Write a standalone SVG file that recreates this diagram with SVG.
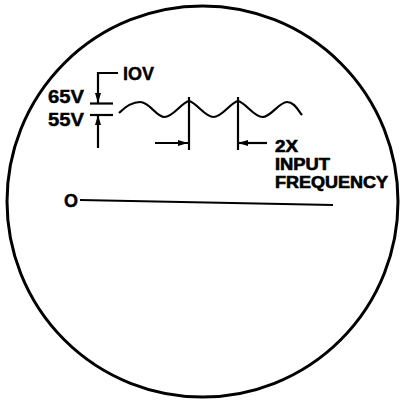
<svg xmlns="http://www.w3.org/2000/svg" width="400" height="400" viewBox="0 0 400 400">
<style>
.t{font-family:"Liberation Sans",Arial,sans-serif;font-weight:bold;font-size:18px;fill:#000;stroke:#000;stroke-width:0.4}
.s{font-size:16px;stroke-width:0.6}
.l{stroke:#000;stroke-width:2.2;fill:none}
</style>
<defs>
<marker id="ah" viewBox="0 0 10 6" refX="10" refY="3" markerWidth="10" markerHeight="6" markerUnits="userSpaceOnUse" orient="auto">
<path d="M0,0 L10,3 L0,6 Z" fill="#000"/>
</marker>
</defs>
<rect width="400" height="400" fill="#fff"/>
<g id="screen"><circle cx="202.5" cy="201.5" r="195.5" fill="none" stroke="#000" stroke-width="3"/></g>
<g id="connectors">
<path class="l" d="M118,73 H98 V103" marker-end="url(#ah)"/>
<path class="l" d="M90,103.5 H113"/>
<path class="l" d="M90,115 H113"/>
<path class="l" d="M98,148 V115" marker-end="url(#ah)"/>
<path class="l" d="M189,97 V150"/>
<path class="l" d="M238,97 V150"/>
<path class="l" d="M155,143 H188" marker-end="url(#ah)"/>
<path class="l" d="M267,143 H238" marker-end="url(#ah)"/>
<path class="l" d="M80,200 L333,205"/>
</g>
<g id="waveform">
<path class="l" d="M119,113 C126,106 132,102 140,102 C150,102 156,117 164.5,117 C173,117 181,103 189,101 C197,103 205,117 213.5,117 C222,117 230,103 238,101 C246,103 254,117 262.5,117 C271,117 279,102 287,102 C294,102 298,110 302,115"/>
</g>
<g id="labels">
<text class="t" x="123" y="80">IOV</text>
<text class="t" x="48" y="103" textLength="36" lengthAdjust="spacingAndGlyphs">65V</text>
<text class="t" x="48" y="126" textLength="36" lengthAdjust="spacingAndGlyphs">55V</text>
<text class="t s" x="275" y="152" textLength="23" lengthAdjust="spacingAndGlyphs">2X</text>
<text class="t s" x="275" y="170" textLength="55" lengthAdjust="spacingAndGlyphs">INPUT</text>
<text class="t s" x="275" y="188" textLength="113" lengthAdjust="spacingAndGlyphs">FREQUENCY</text>
<text class="t" x="64" y="207">O</text>
</g>
</svg>
